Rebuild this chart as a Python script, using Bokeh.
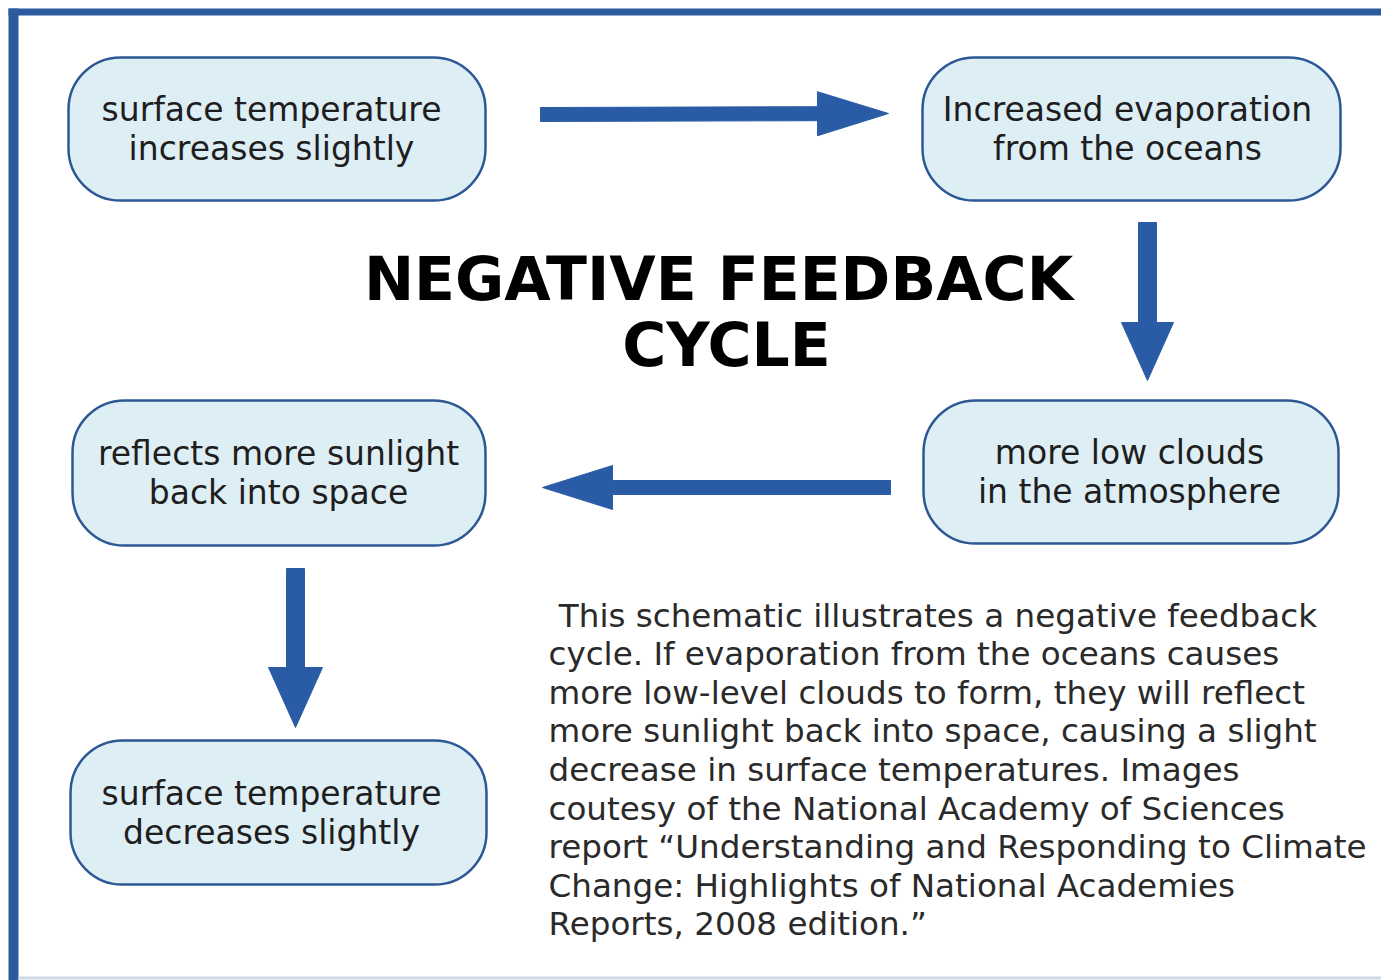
import numpy as np
from bokeh.plotting import figure
from bokeh.models import Range1d
from bokeh.core.properties import value
from bokeh.embed import file_html
from bokeh.resources import INLINE

# ---------------- content ----------------
box_line1 = ["surface temperature", "Increased evaporation", "more low clouds",
             "reflects more sunlight", "surface temperature"]
box_line2 = ["increases slightly", "from the oceans", "in the atmosphere",
             "back into space", "decreases slightly"]
title_lines = ["NEGATIVE FEEDBACK", "CYCLE"]
caption_lines = [
    "\u00a0This schematic illustrates a negative feedback",
    "cycle. If evaporation from the oceans causes",
    "more low-level clouds to form, they will reflect",
    "more sunlight back into space, causing a slight",
    "decrease in surface temperatures. Images",
    "coutesy of the National Academy of Sciences",
    "report \u201cUnderstanding and Responding to Climate",
    "Change: Highlights of National Academies",
    "Reports, 2008 edition.\u201d",
]

# ---------------- layout (screen pixels of the picture) ----------------
box_left = [68, 922, 923, 72, 70]
box_right = [485, 1340, 1338, 485, 486]
box_top = [57, 57, 400, 400, 740]
box_bottom = [200, 200, 543, 545, 884]
text_x = [271, 1127, 1129, 278, 271]

# arrows: tail (x0,y0) -> tip (x1,y1), shaft half width, head length, head half width
arrows = [
    (540, 114, 888, 113, 7, 71, 22),
    (1147, 222, 1147, 380, 9, 58, 26),
    (890, 487, 542, 487, 7, 70, 22),
    (295, 568, 295, 727, 9, 60, 27),
]

BLUE = "#2a5ca6"
EDGE = "#2c5894"
FILL = "#deeef5"

W, H = 1381, 980
p = figure(width=W, height=H, output_backend="svg", toolbar_location=None,
           x_range=Range1d(0, W), y_range=Range1d(H, 0),
           min_border=0, outline_line_color=None)
p.axis.visible = False
p.grid.visible = False
p.background_fill_color = "white"

# frame border (top and left), faint bottom line
p.quad(left=[8, 8], right=[W, 18], top=[8, 8], bottom=[15, H],
       fill_color="#2b5b9e", line_color=None)
p.quad(left=[18], right=[W], top=[976], bottom=[979],
       fill_color="#cdd8e6", line_color=None)

# rounded boxes
p.quad(left=box_left, right=box_right, top=box_top, bottom=box_bottom,
       fill_color=FILL, line_color=EDGE, line_width=2.5, border_radius=52)

# box texts
yc = [(t + b) / 2 for t, b in zip(box_top, box_bottom)]
p.text(x=text_x, y=[y - 19.5 for y in yc], text=box_line1,
       text_font=value("DejaVu Sans"), text_font_size="33px",
       text_align="center", text_baseline="middle", text_color="#1e1e1e")
p.text(x=text_x, y=[y + 19.5 for y in yc], text=box_line2,
       text_font=value("DejaVu Sans"), text_font_size="33px",
       text_align="center", text_baseline="middle", text_color="#1e1e1e")

# arrows as polygons
xs, ys = [], []
for x0, y0, x1, y1, sw, hl, hw in arrows:
    d = np.array([x1 - x0, y1 - y0], float)
    L = np.hypot(*d)
    u = d / L
    n = np.array([-u[1], u[0]])
    a = np.array([x0, y0], float)
    b = a + u * (L - hl)
    tip = np.array([x1, y1], float)
    pts = [a + n * sw, b + n * sw, b + n * hw, tip, b - n * hw, b - n * sw, a - n * sw]
    xs.append([q[0] for q in pts])
    ys.append([q[1] for q in pts])
p.patches(xs=xs, ys=ys, fill_color=BLUE, line_color=BLUE, line_width=1)

# title
p.text(x=[718, 726], y=[278, 344], text=title_lines,
       text_font=value("DejaVu Sans"), text_font_style="bold", text_font_size="60px",
       text_align="center", text_baseline="middle", text_color="#000000")

# caption
cap_y = [615 + i * 38.6 for i in range(len(caption_lines))]
p.text(x=[548] * len(caption_lines), y=cap_y, text=caption_lines,
       text_font=value("DejaVu Sans"), text_font_size="32.6px",
       text_align="left", text_baseline="middle", text_color="#2a2a2a")

open("out.html", "w").write(file_html(p, INLINE))
